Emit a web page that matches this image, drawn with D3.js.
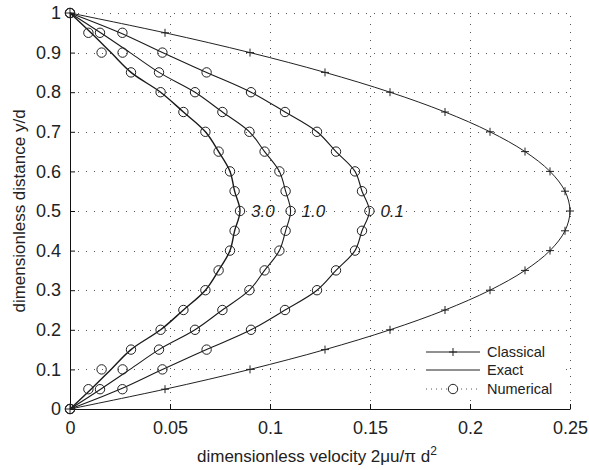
<!DOCTYPE html>
<html>
<head>
<meta charset="utf-8">
<script src="https://cdn.jsdelivr.net/npm/d3@7"></script>
<style>
  body { margin: 0; background: #fff; }
  svg text { font-family: "Liberation Sans", Arial, sans-serif; fill: #222; }
</style>
</head>
<body>
<div class="container"></div>
<script>
const width = 589;
const height = 470;

// y/d positions of the markers
const yPos = [0, 0.05, 0.1, 0.15, 0.2, 0.25, 0.3, 0.35, 0.4, 0.45, 0.5,
              0.55, 0.6, 0.65, 0.7, 0.75, 0.8, 0.85, 0.9, 0.95, 1];

// classical profile (+ markers)
const classical = [0, 0.0475, 0.09, 0.1275, 0.16, 0.1875, 0.21, 0.2275, 0.24, 0.2475, 0.25,
                   0.2475, 0.24, 0.2275, 0.21, 0.1875, 0.16, 0.1275, 0.09, 0.0475, 0];

// exact profiles (solid lines)
const exact30 = [0, 0.0105, 0.0205, 0.0305, 0.0453, 0.0567, 0.0677, 0.0743, 0.080, 0.0823, 0.085,
                 0.0823, 0.080, 0.0743, 0.0677, 0.0567, 0.0453, 0.0305, 0.0205, 0.0105, 0];
const exact10 = [0, 0.0153, 0.030, 0.0445, 0.0625, 0.0762, 0.0897, 0.0973, 0.1047, 0.1078, 0.1103,
                 0.1078, 0.1047, 0.0973, 0.0897, 0.0762, 0.0625, 0.0445, 0.030, 0.0153, 0];
const exact01 = [0, 0.025, 0.0462, 0.0683, 0.0905, 0.1075, 0.1235, 0.133, 0.1425, 0.146, 0.1497,
                 0.146, 0.1425, 0.133, 0.1235, 0.1075, 0.0905, 0.0683, 0.0462, 0.025, 0];

// numerical results (circles)
const num30 = [0, 0.0092, 0.0158, 0.0305, 0.0453, 0.0567, 0.0677, 0.0743, 0.080, 0.0823, 0.085,
               0.0823, 0.080, 0.0743, 0.0677, 0.0567, 0.0453, 0.0305, 0.0158, 0.0092, 0];
const num10 = [0, 0.015, 0.0263, 0.0445, 0.0625, 0.0762, 0.0897, 0.0973, 0.1047, 0.1078, 0.1103,
               0.1078, 0.1047, 0.0973, 0.0897, 0.0762, 0.0625, 0.0445, 0.0263, 0.015, 0];
const num01 = [0, 0.0262, 0.0462, 0.0683, 0.0905, 0.1075, 0.1235, 0.133, 0.1425, 0.146, 0.1497,
               0.146, 0.1425, 0.133, 0.1235, 0.1075, 0.0905, 0.0683, 0.0462, 0.0262, 0];

const curveLabels = ["3.0", "1.0", "0.1"];
const labelAt = [0.085, 0.1103, 0.1497];

const xTicks = [0, 0.05, 0.1, 0.15, 0.2, 0.25];
const xTickLabels = ["0", "0.05", "0.1", "0.15", "0.2", "0.25"];
const yTicks = [0, 0.1, 0.2, 0.3, 0.4, 0.5, 0.6, 0.7, 0.8, 0.9, 1];
const yTickLabels = ["0", "0.1", "0.2", "0.3", "0.4", "0.5", "0.6", "0.7", "0.8", "0.9", "1"];

const legendNames = ["Classical", "Exact", "Numerical"];

const svg = d3.select(".container")
    .append("svg")
    .attr("width", width)
    .attr("height", height);

const x = d3.scaleLinear().domain([0, 0.25]).range([70, 570]);
const y = d3.scaleLinear().domain([0, 1]).range([409, 13]);

// dotted grid
const grid = svg.append("g")
    .attr("stroke", "#555")
    .attr("stroke-width", 1)
    .attr("stroke-dasharray", "1,7");

grid.selectAll(".gx")
    .data(xTicks.slice(1))
    .enter()
    .append("line")
    .attr("x1", d => x(d) + 0.5)
    .attr("x2", d => x(d) + 0.5)
    .attr("y1", y(0))
    .attr("y2", y(1));

grid.selectAll(".gy")
    .data(yTicks.slice(1))
    .enter()
    .append("line")
    .attr("y1", d => Math.round(y(d)) + 0.5)
    .attr("y2", d => Math.round(y(d)) + 0.5)
    .attr("x1", x(0))
    .attr("x2", x(0.25));

// axes
const xAxis = d3.axisBottom(x)
    .tickValues(xTicks)
    .tickFormat((d, i) => xTickLabels[i])
    .tickSizeInner(-5)
    .tickSizeOuter(0)
    .tickPadding(12);

const yAxis = d3.axisLeft(y)
    .tickValues(yTicks)
    .tickFormat((d, i) => yTickLabels[i])
    .tickSizeInner(-5)
    .tickSizeOuter(0)
    .tickPadding(9);

const gx = svg.append("g")
    .attr("transform", `translate(0,${y(0)})`)
    .call(xAxis);

const gy = svg.append("g")
    .attr("transform", `translate(${x(0)},0)`)
    .call(yAxis);

[gx, gy].forEach(g => {
    g.select(".domain").attr("stroke", "#111");
    g.selectAll(".tick line").attr("stroke", "#111");
    g.selectAll(".tick text")
        .attr("fill", "#222")
        .style("font-size", "18px")
        .style("font-family", "Liberation Sans, Arial, sans-serif");
});

// axis titles
const xt = svg.append("text")
    .attr("x", 197)
    .attr("y", 462)
    .style("font-size", "17px");
xt.append("tspan").text("dimensionless velocity 2\u03bcu/\u03c0 d");
xt.append("tspan").attr("dy", -7).style("font-size", "12px").text("2");

svg.append("text")
    .attr("transform", `translate(25,${(y(0) + y(1)) / 2}) rotate(-90)`)
    .attr("text-anchor", "middle")
    .style("font-size", "17px")
    .text("dimensionless distance y/d");

// lines
const line = d3.line()
    .x(d => x(d[0]))
    .y(d => y(d[1]))
    .curve(d3.curveCatmullRom);

const pair = arr => arr.map((v, i) => [v, yPos[i]]);

const plot = svg.append("g");

plot.append("path")
    .datum(pair(classical))
    .attr("d", line)
    .attr("fill", "none")
    .attr("stroke", "#222")
    .attr("stroke-width", 1);

[exact30, exact10, exact01].forEach((arr, i) => {
    plot.append("path")
        .datum(pair(arr))
        .attr("d", line)
        .attr("fill", "none")
        .attr("stroke", "#1a1a1a")
        .attr("stroke-width", i == 0 ? 1.4 : 1.1);
});

// plus markers
plot.selectAll(".plus")
    .data(pair(classical))
    .enter()
    .append("path")
    .attr("d", d => `M${x(d[0]) - 4},${y(d[1])}h8M${x(d[0])},${y(d[1]) - 4}v8`)
    .attr("stroke", "#222")
    .attr("stroke-width", 1);

// circle markers
[num30, num10, num01].forEach(arr => {
    plot.selectAll(null)
        .data(pair(arr))
        .enter()
        .append("circle")
        .attr("cx", d => x(d[0]))
        .attr("cy", d => y(d[1]))
        .attr("r", 4.7)
        .attr("fill", "none")
        .attr("stroke", "#222")
        .attr("stroke-width", 1);
});

// curve labels
svg.selectAll(".clab")
    .data(curveLabels)
    .enter()
    .append("text")
    .attr("x", (d, i) => x(labelAt[i]) + 11)
    .attr("y", y(0.5) + 6)
    .style("font-size", "17px")
    .style("font-style", "italic")
    .attr("fill", "#333")
    .text(d => d);

// legend
const lg = svg.append("g");
lg.append("rect")
    .attr("x", 415)
    .attr("y", 339)
    .attr("width", 151)
    .attr("height", 61)
    .attr("fill", "#fff");

const ly = [352, 370, 389];
lg.selectAll(".ltxt")
    .data(legendNames)
    .enter()
    .append("text")
    .attr("x", 487)
    .attr("y", (d, i) => ly[i] + 5)
    .style("font-size", "14.5px")
    .text(d => d);

lg.append("line").attr("x1", 426).attr("x2", 480).attr("y1", ly[0]).attr("y2", ly[0])
    .attr("stroke", "#222");
lg.append("path").attr("d", `M449,${ly[0]}h8M453,${ly[0] - 4}v8`).attr("stroke", "#222");
lg.append("line").attr("x1", 426).attr("x2", 480).attr("y1", ly[1]).attr("y2", ly[1])
    .attr("stroke", "#222");
lg.append("line").attr("x1", 426).attr("x2", 480).attr("y1", ly[2]).attr("y2", ly[2])
    .attr("stroke", "#555").attr("stroke-dasharray", "1,4");
lg.append("rect").attr("x", 447).attr("y", ly[2] - 5).attr("width", 12).attr("height", 10)
    .attr("fill", "#fff");
lg.append("circle").attr("cx", 453).attr("cy", ly[2]).attr("r", 4.7)
    .attr("fill", "none").attr("stroke", "#222");
</script>
</body>
</html>
